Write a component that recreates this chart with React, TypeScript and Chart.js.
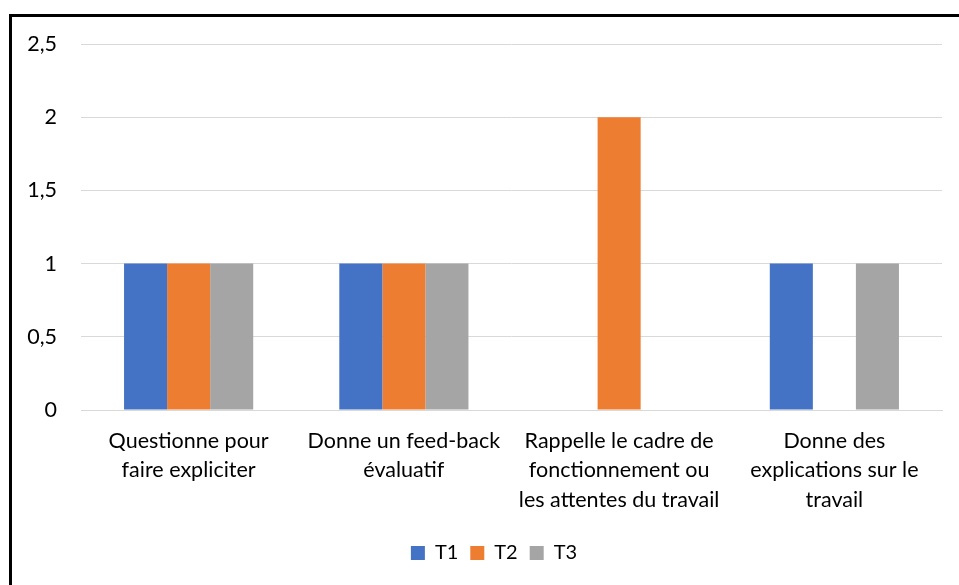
import React, { useEffect, useRef } from "react";
import { Chart, registerables } from "chart.js";

Chart.register(...registerables);

const categories: string[][] = [
  ["Questionne pour", "faire expliciter"],
  ["Donne un feed-back", "évaluatif"],
  ["Rappelle le cadre de", "fonctionnement ou", "les attentes du travail"],
  ["Donne des", "explications sur le", "travail"],
];
const seriesNames = ["T1", "T2", "T3"];
const t1Values = [1, 1, 0, 1];
const t2Values = [1, 1, 2, 0];
const t3Values = [1, 1, 0, 1];
const seriesColors = ["#4472C4", "#ED7D31", "#A5A5A5"];
const yTicks = [0, 0.5, 1, 1.5, 2, 2.5];

const FONT = "Lato, 'Open Sans', sans-serif";

const legendShift = {
  id: "legendShift",
  afterLayout(chart: any) {
    const lg = chart.legend;
    if (lg) {
      lg.left += 23;
      lg.right += 23;
    }
  },
};

export default function App() {
  const ref = useRef<HTMLCanvasElement | null>(null);
  useEffect(() => {
    if (!ref.current) return;
    const values = [t1Values, t2Values, t3Values];
    const chart = new Chart(ref.current, {
      type: "bar",
      data: {
        labels: categories as any,
        datasets: seriesNames.map((n, i) => ({
          label: n,
          data: values[i],
          backgroundColor: seriesColors[i],
          borderWidth: 0,
          barPercentage: 1,
          categoryPercentage: 0.6,
        })),
      },
      plugins: [legendShift],
      options: {
        animation: false,
        responsive: false,
        maintainAspectRatio: false,
        layout: { padding: { top: 44, right: 17, bottom: 12, left: 0 } },
        plugins: {
          tooltip: { enabled: false },
          legend: {
            position: "bottom",
            labels: {
              boxWidth: 14,
              boxHeight: 14,
              padding: 12,
              color: "#000",
              font: { family: FONT, size: 20 },
            },
          },
        },
        scales: {
          x: {
            grid: { display: false, drawTicks: false },
            border: { display: true, color: "#d9d9d9", width: 1 },
            ticks: {
              autoSkip: false,
              maxRotation: 0,
              minRotation: 0,
              padding: 17,
              color: "#000",
              font: { family: FONT, size: 21.5, lineHeight: 1.35 },
            },
            afterFit: (s: any) => {
              s.height = 121;
            },
          },
          y: {
            min: 0,
            max: 2.5,
            afterBuildTicks: (s: any) => {
              s.ticks = yTicks.map((v) => ({ value: v }));
            },
            grid: { color: "#d9d9d9", drawTicks: false, lineWidth: 1 },
            border: { display: false },
            ticks: {
              padding: 24,
              color: "#000",
              font: { family: FONT, size: 21.5 },
              callback: (v: any) => String(v).replace(".", ","),
            },
            afterFit: (s: any) => {
              s.width = 81;
            },
          },
        },
      },
    });
    return () => chart.destroy();
  }, []);
  return (
    <div style={{ position: "absolute", left: 0, top: 0, width: 959, height: 585, overflow: "hidden", background: "#fff" }}>
      <canvas ref={ref} width={959} height={585} style={{ position: "absolute", left: 0, top: 0 }} />
      <div
        style={{
          position: "absolute",
          left: 9,
          top: 14,
          width: 970,
          height: 600,
          border: "3px solid #000",
          boxSizing: "border-box",
          pointerEvents: "none",
        }}
      />
    </div>
  );
}
